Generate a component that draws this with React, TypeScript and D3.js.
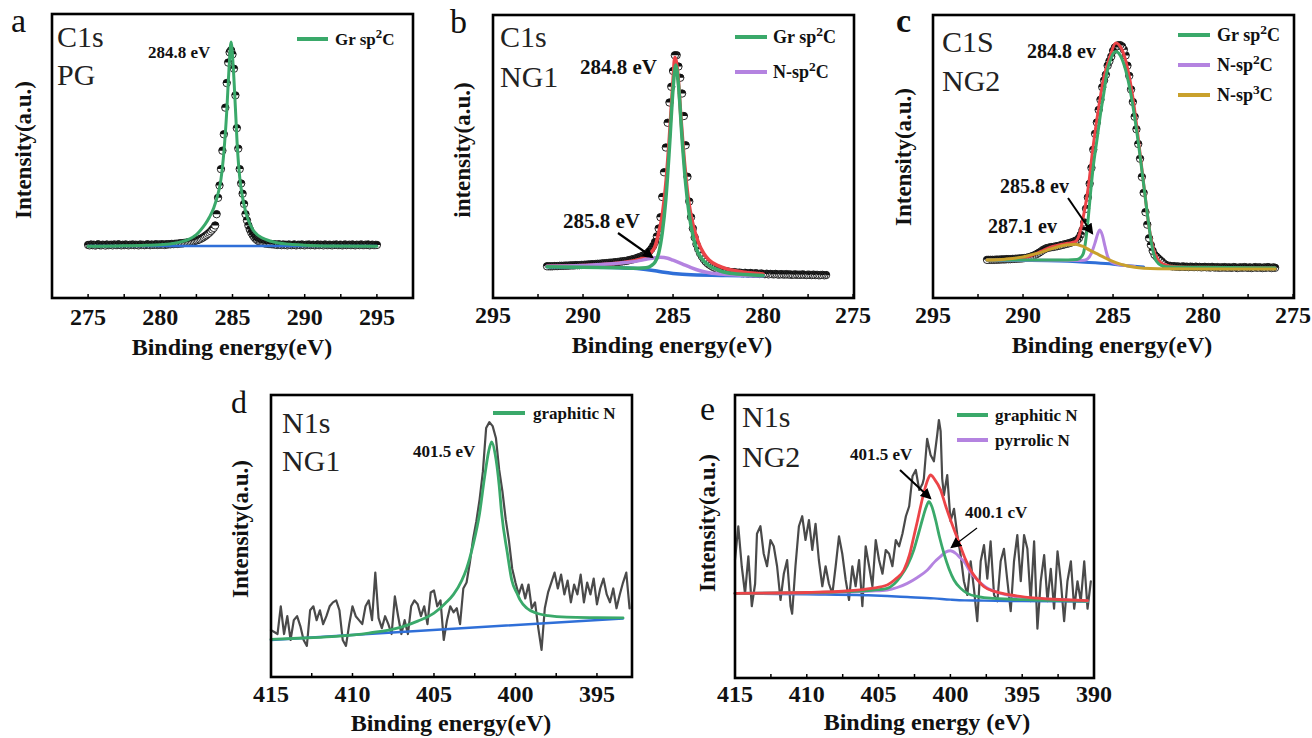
import React from 'react';
import * as d3 from 'd3';

// fontes e cores
const FONT = '"Liberation Serif", "DejaVu Serif", "Noto Serif", Times, serif';
const GREEN = '#3aa96a';
const PURPLE = '#b483e0';
const RED = '#ec4448';
const BLUE = '#2f6fd8';
const GOLD = '#c9a12c';
const GRAY = '#4a4a4a';

// ---------- (a) C1s PG : counts every 0.1 eV starting at 275.0 ----------
const pgC1sStart = 275.0;
const pgC1sCounts = [
  1.0, 0.8, 1.2, 0.9, 1.1, 0.7, 1.0, 1.3, 0.9, 0.8,
  1.1, 1.0, 0.7, 1.2, 0.9, 1.0, 1.1, 0.8, 1.2, 1.0,
  0.9, 1.3, 1.0, 0.8, 1.1, 0.9, 1.2, 1.0, 0.8, 1.1,
  1.0, 1.2, 0.9, 1.1, 1.0, 0.8, 1.2, 1.0, 1.1, 0.9,
  1.0, 1.3, 1.1, 0.9, 1.2, 1.0, 1.1, 1.3, 1.0, 1.2,
  1.1, 1.3, 1.2, 1.0, 1.3, 1.2, 1.4, 1.3, 1.5, 1.4,
  1.5, 1.6, 1.5, 1.7, 1.8, 1.7, 1.9, 2.0, 2.1, 2.2,
  2.3, 2.4, 2.6, 2.8, 3.0, 3.2, 3.4, 3.7, 4.0, 4.4,
  4.8, 5.3, 5.8, 6.4, 7.0, 7.7, 8.5, 9.3, 10.5, 16,
  24, 30, 38, 47, 55, 68, 80, 90, 95, 96,
  94, 87, 74, 58, 48, 38, 31, 26, 21, 16,
  13, 10.5, 8.5, 7, 5.8, 4.8, 4.0, 3.4, 2.9, 2.5,
  2.2, 2.0, 1.8, 1.7, 1.6, 1.5, 1.4, 1.4, 1.3, 1.3,
  1.2, 1.0, 1.3, 1.1, 0.9, 1.2, 1.0, 1.1, 0.8, 1.2,
  1.0, 0.9, 1.1, 1.2, 0.8, 1.0, 1.1, 0.9, 1.2, 1.0,
  0.8, 1.1, 1.0, 1.2, 0.9, 1.0, 1.1, 0.8, 1.0, 1.2,
  0.9, 1.1, 1.0, 0.8, 1.2, 1.0, 0.9, 1.1, 1.0, 0.8,
  1.1, 1.0, 1.2, 0.9, 1.0, 1.1, 0.8, 1.0, 1.2, 0.9,
  1.0, 1.1, 0.9, 1.2, 1.0, 0.8, 1.1, 1.0, 0.9, 1.2,
  1.0, 0.9, 1.1, 1.0, 1.2, 0.8, 1.0, 1.1, 0.9, 1.0,
  1.0,
];
const pgGrSp2C: [number, number][] = [
  [275, 0.3], [277, 0.5], [279, 0.8], [280, 1.1], [281, 1.8], [281.5, 2.6], [282, 3.8],
  [282.5, 6], [282.8, 8.3], [283.1, 11], [283.4, 14.5], [283.7, 19], [284, 26], [284.2, 33],
  [284.4, 46], [284.6, 66], [284.75, 86], [284.9, 100], [285.05, 88], [285.2, 68], [285.35, 47],
  [285.5, 34], [285.7, 24], [285.9, 17.5], [286.1, 13], [286.4, 8.5], [286.8, 5.5], [287.4, 3.4],
  [288, 2.2], [289, 1.3], [290, 0.9], [292, 0.5], [295, 0.3],
];
const pgBackground: [number, number][] = [[275, 0.5], [295, 0.5]];

// ---------- (b) C1s NG1 : counts every 0.1 eV starting at 276.5 ----------
const ng1C1sStart = 276.5;
const ng1C1sCounts = [
  1.3, 1.2, 1.4, 1.3, 1.2,
  1.4, 1.3, 1.5, 1.3, 1.4, 1.5, 1.3, 1.4, 1.6, 1.4,
  1.5, 1.4, 1.6, 1.5, 1.4, 1.6, 1.5, 1.7, 1.5, 1.6,
  1.7, 1.5, 1.6, 1.8, 1.6, 1.7, 1.8, 1.6, 1.9, 1.7,
  1.8, 2.0, 1.8, 1.9, 2.1, 1.9, 2.0, 2.2, 2.0, 2.1,
  2.3, 2.1, 2.2, 2.4, 2.3, 2.4, 2.6, 2.5, 2.6, 2.8,
  2.9, 3.0, 3.2, 3.4, 3.6, 3.9, 4.2, 4.6, 5.0, 5.5,
  6.0, 6.6, 7.4, 8.4, 9.6, 11.0, 12.8, 15.0, 18.0, 22.0,
  27, 34, 45, 59, 72, 82, 89, 94, 99, 99,
  92, 85, 78, 69, 58, 47, 36, 27, 22, 18.5,
  16, 14.3, 13, 12, 11.2, 10.6, 10.2, 9.8, 9.5, 9.2,
  8.9, 8.6, 8.4, 8.2, 8.0, 7.8, 7.6, 7.5, 7.4, 7.3,
  7.2, 7.1, 7.0, 6.9, 6.8, 6.8, 6.7, 6.6, 6.5, 6.5,
  6.4, 6.3, 6.3, 6.2, 6.1, 6.1, 6.0, 6.0, 5.9, 5.9,
  5.8, 5.8, 5.7, 5.7, 5.7, 5.6, 5.6, 5.6, 5.5, 5.5,
  5.5, 5.4, 5.4, 5.4, 5.3, 5.3, 5.3, 5.2, 5.2, 5.2,
  5.2,
];
const ng1C1sEnvelope: [number, number][] = [
  [292, 5.2], [290, 5.5], [288, 6.7], [287, 8], [286.5, 9.5], [286.2, 11.5], [286, 14],
  [285.8, 20], [285.6, 28], [285.4, 42], [285.2, 63], [285, 88], [284.9, 98], [284.75, 92],
  [284.55, 70], [284.35, 50], [284.15, 35], [283.9, 24], [283.6, 16], [283.3, 11], [283, 8],
  [282.5, 5.5], [282, 4], [281, 2.5], [280, 1.8],
];
const ng1GrSp2C: [number, number][] = [
  [292, 5], [289, 4.7], [288, 4.5], [287, 4.3], [286.5, 4.5], [286.2, 5.5], [286, 7],
  [285.8, 11], [285.6, 20], [285.4, 35], [285.2, 58], [285, 84], [284.85, 94.7], [284.7, 86],
  [284.5, 62], [284.3, 42], [284.1, 28], [283.9, 19], [283.7, 13], [283.4, 8.5], [283, 5.5],
  [282.5, 3.5], [282, 2.3], [281, 1.5], [280, 1.1],
];
const ng1NSp2C: [number, number][] = [
  [292, 5.2], [290, 5.5], [289, 6], [288, 6.6], [287, 7.5], [286.5, 8.3], [286, 9],
  [285.7, 9.2], [285.3, 8.8], [285, 7.9], [284.5, 6.3], [284, 4.6], [283.5, 3.2], [283, 2.3],
  [282, 1.5], [281, 1.1], [280, 1],
];
const ng1C1sBackground: [number, number][] = [
  [292, 5], [288, 4.6], [287, 4.2], [286, 3.2], [285.5, 2.5], [285, 2], [284, 1.4], [282, 1.1], [280, 1],
];

// ---------- (c) C1s NG2 : counts every 0.1 eV starting at 276.0 ----------
const ng2C1sStart = 276.0;
const ng2C1sCounts = [
  1.0, 1.2, 0.9, 1.1, 1.3, 1.0, 1.2, 0.9, 1.1, 1.2,
  1.0, 1.3, 1.1, 0.9, 1.2, 1.0, 1.1, 1.3, 1.0, 1.2,
  1.1, 0.9, 1.2, 1.3, 1.0, 1.1, 1.2, 1.0, 1.3, 1.1,
  1.2, 1.0, 1.3, 1.1, 1.2, 1.4, 1.1, 1.3, 1.2, 1.4,
  1.3, 1.2, 1.4, 1.3, 1.5, 1.3, 1.4, 1.5, 1.3, 1.5,
  1.4, 1.6, 1.5, 1.4, 1.6, 1.5, 1.7, 1.6, 1.8, 1.9,
  2.0, 2.4, 3.0, 3.8, 4.5, 5.2, 6.0, 6.8, 8.5, 11,
  14, 20, 25.5, 34, 41, 49, 55.5, 62, 67.5, 74,
  79.5, 85.5, 90, 94.5, 97, 98.5, 99, 99, 98.5, 98,
  96.5, 94, 92, 90, 86, 83.5, 80.5, 75, 70.5, 65,
  60, 53, 45, 38, 32, 27, 21, 17.5, 15.5, 14,
  13.2, 12.8, 12.5, 12.2, 11.9, 11.7, 11.5, 11.3, 11.1, 10.9,
  10.7, 10.5, 10.4, 10.2, 10.1, 10.0, 9.8, 9.6, 9.2, 8.8,
  8.2, 7.7, 7.2, 6.8, 6.4, 6.1, 5.8, 5.6, 5.4, 5.3,
  5.2, 5.1, 5.1, 5.0, 5.0, 4.9, 4.9, 4.8, 4.8, 4.8,
  4.7, 4.7, 4.7, 4.6, 4.6, 4.6, 4.5, 4.5, 4.5, 4.5,
  4.5,
];
const ng2C1sEnvelope: [number, number][] = [
  [292, 4.4], [290, 5.2], [289.5, 6.5], [289, 8.2], [288.5, 10], [288, 11], [287.5, 11.8],
  [287.1, 12.5], [286.9, 15], [286.65, 23.5], [286.37, 36.7], [286.13, 52.9], [285.82, 70.5],
  [285.54, 83.7], [285.17, 94], [284.85, 100], [284.5, 97], [284.2, 89], [283.9, 76], [283.6, 58],
  [283.3, 38], [283, 19], [282.75, 9], [282.5, 4.5], [282.2, 2.5], [281.5, 1.5], [280, 1.2], [276, 1],
];
const ng2GrSp2C: [number, number][] = [
  [292, 4.4], [289, 4.4], [287.5, 4.4], [287, 4.6], [286.8, 5.5], [286.65, 7.3], [286.5, 14],
  [286.37, 23.5], [286.25, 34], [286.1, 45.5], [285.9, 57], [285.72, 67.5], [285.5, 78.5],
  [285.35, 86.6], [285.1, 93.5], [284.85, 96.2], [284.6, 94.5], [284.3, 88], [284, 77], [283.7, 62],
  [283.4, 44], [283.1, 25], [282.85, 11], [282.6, 4], [282.3, 2], [282, 1.5], [280, 1.2], [276, 1],
];
const ng2NSp2C: [number, number][] = [
  [292, 4.4], [290, 4.4], [288, 4.3], [287, 4.2], [286.6, 4.3], [286.4, 5], [286.2, 7.5],
  [286, 12], [285.85, 16], [285.75, 17.6], [285.6, 15.5], [285.45, 10.5], [285.3, 6], [285.1, 3.5],
  [284.8, 2.6], [284.3, 2], [283.8, 1.6],
];
const ng2NSp3C: [number, number][] = [
  [292, 4.4], [291, 4.8], [290, 5.8], [289.5, 6.8], [289, 7.8], [288.5, 9.2], [288, 10.4],
  [287.5, 11.1], [287.1, 11.4], [286.7, 10.5], [286.3, 8.8], [285.8, 6.8], [285.3, 4.8],
  [284.8, 3.2], [284.3, 2], [283.8, 1.2], [283.3, 0.8], [282.5, 0.6], [280, 0.5], [276, 0.5],
];
const ng2C1sBackground: [number, number][] = [
  [292, 4.3], [290, 4.2], [288, 4.0], [287, 3.7], [286, 3.2], [285, 2.6], [284, 1.8], [283.3, 1.3],
];

// ---------- (d) N1s NG1 : counts every 0.2 eV starting at 415 going down ----------
const ng1N1sStart = 415;
const ng1N1sCounts = [
  5, 4, 3, 17, 3, 12, 0, 10, 12, 7,
  0, -3, 15, 17, 10, 15, 8, 12, 17, 19,
  20, 15, 0, -3, 8, 17, 12, 10, 8, 17,
  20, 10, 34, 11, 6, 12, 8, 3, 22, 12,
  3, 10, 3, 17, 20, 18, 12, 17, 8, 24,
  25, 17, 20, 0, 10, 17,
  14, 16, 8, 26, 29, 39, 51, 60, 71, 85,
  107, 110, 108, 102, 86, 75, 61, 50, 36, 29,
  23, 28, 21, 28, 16, 19, 6, -5, 16, 24,
  29, 34, 26, 33, 23, 30, 19, 28, 23, 33,
  19, 29, 23, 31, 18, 26, 31, 23, 19, 26,
  16, 23, 29, 34, 16,
];
const ng1GraphiticN: [number, number][] = [
  [415, 0.3], [413, 1], [411, 1.8], [409, 3.5], [407, 6.5], [406, 9.5], [405, 13.5], [404.3, 18.5],
  [403.8, 23], [403.3, 30], [403, 36], [402.6, 48], [402.2, 64], [401.9, 82], [401.65, 95],
  [401.46, 100], [401.25, 94], [401, 78], [400.85, 64], [400.5, 44], [400.23, 30.3], [399.9, 23.5],
  [399.72, 20.2], [399.3, 16], [398.7, 13.5], [398, 12.3], [396.86, 11.5], [395, 11.3], [393.4, 11.2],
];
const ng1N1sBackground: [number, number][] = [[415, 0], [393.4, 10.9]];

// ---------- (e) N1s NG2 ----------
const ng2N1sRaw: [number, number][] = [
  [415.0, 32], [414.77, 59], [414.53, 27], [414.3, 5], [414.07, 35], [413.83, -5], [413.6, 13],
  [413.47, 53], [413.23, 59], [413.0, 37], [412.77, 27], [412.53, 48], [412.3, 43], [412.07, 27],
  [411.83, 0], [411.6, 21], [411.37, 32], [411.13, -5], [411.02, -11], [410.79, 27], [410.55, 59],
  [410.32, 67], [410.09, 48], [409.85, 64], [409.62, 40], [409.39, 61], [409.16, 32], [408.92, 11],
  [408.69, 27], [408.46, 13], [408.22, 5], [407.99, 27], [407.76, 51], [407.53, 37], [407.29, 16],
  [407.06, 0], [406.83, 27], [406.6, 11], [406.36, 32], [406.13, -5], [405.9, 43], [405.66, 27],
  [405.43, 11], [405.2, 48], [404.97, 32], [404.73, 21], [404.5, 40], [404.27, 37], [404.04, 27],
  [403.8, 48], [403.57, 43], [403.34, 53], [403.1, 67], [402.87, 75], [402.64, 99], [402.41, 104],
  [402.17, 88], [401.94, 93], [401.85, 97], [401.62, 129], [401.38, 116], [401.15, 111],
  [400.92, 132], [400.8, 144], [400.68, 135], [400.57, 97], [400.45, 84], [400.22, 100],
  [399.99, 63], [399.75, 73], [399.52, 52], [399.29, 36], [399.06, 15], [398.82, 4], [398.59, 31],
  [398.36, 9], [398.13, -17], [397.89, 31], [397.66, 44], [397.43, 17], [397.2, 47], [396.96, 4],
  [396.73, -1], [396.5, 31], [396.27, 41], [396.03, 15], [395.8, -9], [395.57, 31], [395.34, 52],
  [395.1, 15], [394.87, 52], [394.64, 41], [394.41, -1], [394.17, 47], [393.94, -23], [393.71, 15],
  [393.47, 36], [393.24, -1], [393.01, 25], [392.78, -7], [392.54, 39], [392.31, 15], [392.08, -17],
  [391.85, 15], [391.61, 31], [391.38, -7], [391.15, 15], [390.92, -1], [390.68, 31], [390.45, -7],
  [390.22, 15],
];
const ng2N1sEnvelope: [number, number][] = [
  [415, 5.3], [410, 6], [407, 7.4], [405.5, 9.3], [404.4, 12], [403.8, 17], [403.24, 24],
  [402.85, 36], [402.55, 50.6], [402.3, 63], [402.08, 74.6], [401.8, 88], [401.55, 97],
  [401.38, 100], [401.1, 96.5], [400.68, 88], [400.35, 76], [399.99, 64], [399.6, 52],
  [399.29, 42.6], [398.95, 32.5], [398.6, 24], [398.1, 16], [397.66, 10.6], [396.8, 6.5],
  [395.8, 4], [394, 1.5], [392, 0.2], [390.45, -0.5],
];
const ng2GraphiticN: [number, number][] = [
  [415, 5.3], [410, 5.8], [407, 6.8], [405.5, 7.8], [404.4, 9.3], [403.9, 13], [403.48, 18.7],
  [403, 27.5], [402.55, 40], [402.2, 54], [401.96, 64], [401.7, 74], [401.5, 78.6], [401.3, 75],
  [401.03, 64], [400.75, 50], [400.45, 37.3], [400.1, 25], [399.75, 16], [399.3, 9.5],
  [398.82, 5.3], [398, 2.5], [396.96, 1.3], [394, 0], [390.45, -1],
];
const ng2PyrrolicN: [number, number][] = [
  [415, 5.3], [410, 5.6], [407, 6.4], [405.5, 7.2], [404.4, 8], [403.7, 10], [403, 13.3],
  [402.3, 18], [401.6, 24], [401.1, 30.5], [400.7, 34.7], [400.3, 38.5], [400, 39.4], [399.6, 37],
  [399.3, 33.5], [399.05, 30.7], [398.6, 22], [398.12, 16], [397.5, 10], [396.5, 5.3],
  [395.5, 2.8], [394.2, 1.3], [392, 0], [390.45, -1],
];
const ng2N1sBackground: [number, number][] = [
  [415, 5.3], [410, 4.5], [406, 3.8], [404.4, 3.2], [403, 2.4], [401.15, 1.3], [400, 0.3],
  [399, -0.3], [397.66, -0.5], [395, -0.9], [390.45, -1.3],
];

// ticks e nomes
const c1sTicksPG = [275, 280, 285, 290, 295];
const c1sTicksNG = [295, 290, 285, 280, 275];
const n1sTicksNG1 = [415, 410, 405, 400, 395];
const n1sTicksNG2 = [415, 410, 405, 400, 395, 390];
const c1sNames = ['Gr sp2C', 'N-sp2C', 'N-sp3C'];
const n1sNames = ['graphitic N', 'pyrrolic N'];

const grid = (start: number, step: number, vals: number[]) =>
  vals.map((v, i) => [+(start + i * step).toFixed(2), v] as [number, number]);

type Curve = { pts: [number, number][]; color: string; width: number; raw?: boolean };
type Txt = { text: string; x: number; y: number; size: number };

const panels = [
  {
    frame: { x0: 52, x1: 413, y0: 14, y1: 298 },
    xDomain: [272.5, 297.5], yDomain: [-24.9, 113.7],
    ticks: c1sTicksPG, tickY: 325,
    letter: { text: 'a', x: 11, y: 32, size: 34, bold: false },
    sample: { lines: ['C1s', 'PG'], x: 57, ys: [47, 85], size: 30 },
    yLabel: { text: 'Intensity(a.u.)', x: 31, y: 150 },
    xLabel: { text: 'Binding energy(eV)', x: 232, y: 355 },
    legend: { x0: 297, x1: 328, tx: 335, ys: [39], size: 17, names: [c1sNames[0]], colors: [GREEN] },
    notes: [{ text: '284.8 eV', x: 148, y: 58, size: 17 }] as Txt[],
    arrows: [] as number[][],
    scatter: grid(pgC1sStart, 0.1, pgC1sCounts),
    curves: [
      { pts: pgBackground, color: BLUE, width: 2.5 },
      { pts: pgGrSp2C, color: GREEN, width: 3 },
    ] as Curve[],
  },
  {
    frame: { x0: 493, x1: 854, y0: 15, y1: 298 },
    xDomain: [295, 274.95], yDomain: [-8.9, 116.9],
    ticks: c1sTicksNG, tickY: 323,
    letter: { text: 'b', x: 450, y: 33, size: 34, bold: false },
    sample: { lines: ['C1s', 'NG1'], x: 500, ys: [47, 87], size: 30 },
    yLabel: { text: 'intensity(a.u.)', x: 470, y: 150 },
    xLabel: { text: 'Binding energy(eV)', x: 672, y: 353 },
    legend: { x0: 735, x1: 767, tx: 773, ys: [37, 72], size: 18, names: c1sNames.slice(0, 2), colors: [GREEN, PURPLE] },
    notes: [
      { text: '284.8 eV', x: 580, y: 74, size: 21 },
      { text: '285.8 eV', x: 563, y: 228, size: 21 },
    ] as Txt[],
    arrows: [[618, 233, 652, 257, 2.2]],
    scatter: grid(ng1C1sStart, 0.1, ng1C1sCounts),
    curves: [
      { pts: ng1C1sEnvelope, color: RED, width: 3.5 },
      { pts: ng1C1sBackground, color: BLUE, width: 3.5 },
      { pts: ng1NSp2C, color: PURPLE, width: 3.5 },
      { pts: ng1GrSp2C, color: GREEN, width: 3.5 },
    ] as Curve[],
  },
  {
    frame: { x0: 933, x1: 1294, y0: 15, y1: 298 },
    xDomain: [295, 274.95], yDomain: [-12.3, 112.3],
    ticks: c1sTicksNG, tickY: 323,
    letter: { text: 'c', x: 896, y: 32, size: 34, bold: true },
    sample: { lines: ['C1S', 'NG2'], x: 942, ys: [52, 91], size: 30 },
    yLabel: { text: 'Intensity(a.u.)', x: 911, y: 157 },
    xLabel: { text: 'Binding energy(eV)', x: 1112, y: 353 },
    legend: { x0: 1178, x1: 1210, tx: 1217, ys: [35, 65, 95], size: 18, names: c1sNames, colors: [GREEN, PURPLE, GOLD] },
    notes: [
      { text: '284.8 ev', x: 1027, y: 58, size: 20 },
      { text: '285.8 ev', x: 1000, y: 193, size: 20 },
      { text: '287.1 ev', x: 988, y: 233, size: 20 },
    ] as Txt[],
    arrows: [[1068, 198, 1092, 233, 2]],
    scatter: grid(ng2C1sStart, 0.1, ng2C1sCounts),
    curves: [
      { pts: ng2C1sBackground, color: BLUE, width: 3 },
      { pts: ng2NSp2C, color: PURPLE, width: 3 },
      { pts: ng2C1sEnvelope, color: RED, width: 3 },
      { pts: ng2GrSp2C, color: GREEN, width: 3 },
      { pts: ng2NSp3C, color: GOLD, width: 3 },
    ] as Curve[],
  },
  {
    frame: { x0: 271, x1: 632, y0: 395, y1: 677 },
    xDomain: [415, 392.85], yDomain: [-18.7, 123.7],
    ticks: n1sTicksNG1, tickY: 702,
    letter: { text: 'd', x: 231, y: 413, size: 32, bold: false },
    sample: { lines: ['N1s', 'NG1'], x: 282, ys: [433, 471], size: 30 },
    yLabel: { text: 'Intensity(a.u.)', x: 248, y: 529 },
    xLabel: { text: 'Binding energy(eV)', x: 451, y: 731 },
    legend: { x0: 493, x1: 525, tx: 533, ys: [413], size: 17, names: [n1sNames[0]], colors: [GREEN] },
    notes: [{ text: '401.5 eV', x: 413, y: 457, size: 17 }] as Txt[],
    arrows: [] as number[][],
    scatter: [] as [number, number][],
    curves: [
      { pts: grid(ng1N1sStart, -0.2, ng1N1sCounts), color: GRAY, width: 2.2, raw: true },
      { pts: ng1N1sBackground, color: BLUE, width: 2.5 },
      { pts: ng1GraphiticN, color: GREEN, width: 2.8 },
    ] as Curve[],
  },
  {
    frame: { x0: 735, x1: 1094, y0: 395, y1: 678 },
    xDomain: [415, 390], yDomain: [-62.4, 164],
    ticks: n1sTicksNG2, tickY: 702,
    letter: { text: 'e', x: 700, y: 420, size: 34, bold: false },
    sample: { lines: ['N1s', 'NG2'], x: 742, ys: [427, 467], size: 30 },
    yLabel: { text: 'Intensity(a.u.)', x: 715, y: 523 },
    xLabel: { text: 'Binding energy (eV)', x: 927, y: 730 },
    legend: { x0: 957, x1: 988, tx: 995, ys: [415, 440], size: 17, names: n1sNames, colors: [GREEN, PURPLE] },
    notes: [
      { text: '401.5 eV', x: 850, y: 460, size: 17 },
      { text: '400.1 cV', x: 965, y: 518, size: 17 },
    ] as Txt[],
    arrows: [[900, 470, 930, 498, 2], [977, 528, 952, 547, 1.2]],
    scatter: [] as [number, number][],
    curves: [
      { pts: ng2N1sRaw, color: GRAY, width: 2.2, raw: true },
      { pts: ng2N1sBackground, color: BLUE, width: 2.5 },
      { pts: ng2PyrrolicN, color: PURPLE, width: 2.8 },
      { pts: ng2GraphiticN, color: GREEN, width: 2.8 },
      { pts: ng2N1sEnvelope, color: RED, width: 2.8 },
    ] as Curve[],
  },
];

type PanelSpec = (typeof panels)[number];

// texto com expoente (sp2C -> sp²C)
function Label({ name, x, y, size }: { name: string; x: number; y: number; size: number }) {
  const m = name.match(/^(.*sp)(\d)(C)$/);
  return (
    <text x={x} y={y} fontSize={size} fontWeight="bold" style={{ fontFamily: FONT }} fill="#111">
      {m ? (
        <>
          {m[1]}
          <tspan dy={-size * 0.38} fontSize={size * 0.75}>{m[2]}</tspan>
          <tspan dy={size * 0.38}>{m[3]}</tspan>
        </>
      ) : name}
    </text>
  );
}

function Panel({ p }: { p: PanelSpec }) {
  const { frame: f } = p;
  const x = d3.scaleLinear().domain(p.xDomain).range([f.x0, f.x1]);
  const y = d3.scaleLinear().domain(p.yDomain).range([f.y1, f.y0]);
  const smooth = d3.line<[number, number]>().x(d => x(d[0])).y(d => y(d[1])).curve(d3.curveMonotoneX);
  const raw = d3.line<[number, number]>().x(d => x(d[0])).y(d => y(d[1]));
  const byPx = (pts: [number, number][]) => [...pts].sort((a, b) => x(a[0]) - x(b[0]));
  const [lo, hi] = d3.extent(p.xDomain) as [number, number];
  const minor = d3.range(d3.min(p.ticks)! - 2.5, d3.max(p.ticks)! + 2.6, 2.5).filter(v => v > lo && v < hi);
  const bold = { fontFamily: FONT, fontWeight: 'bold' as const };

  return (
    <g>
      {p.scatter.map((d, i) => (
        <use key={i} href="#halfdot" x={x(d[0])} y={y(d[1])} />
      ))}
      {p.curves.map((c, i) => (
        <path key={i} d={(c.raw ? raw : smooth)(byPx(c.pts)) || ''} fill="none" stroke={c.color}
          strokeWidth={c.width} strokeLinejoin="round" strokeLinecap="round" />
      ))}
      <rect x={f.x0} y={f.y0} width={f.x1 - f.x0} height={f.y1 - f.y0} fill="none" stroke="#000" strokeWidth={2.6} />
      {minor.map(v => (
        <line key={v} x1={x(v)} x2={x(v)} y1={f.y1} y2={f.y1 - 4} stroke="#000" strokeWidth={1.5} />
      ))}
      {p.ticks.map(v => (
        <text key={v} x={x(v)} y={p.tickY} textAnchor="middle" fontSize={24} style={bold} fill="#111">{v}</text>
      ))}
      <text x={p.xLabel.x} y={p.xLabel.y} textAnchor="middle" fontSize={24} style={bold} fill="#111">{p.xLabel.text}</text>
      <text transform={`translate(${p.yLabel.x},${p.yLabel.y}) rotate(-90)`} textAnchor="middle" fontSize={23} style={bold} fill="#111">{p.yLabel.text}</text>
      <text x={p.letter.x} y={p.letter.y} fontSize={p.letter.size}
        style={{ fontFamily: FONT, fontWeight: p.letter.bold ? 'bold' : 'normal' }} fill="#111">{p.letter.text}</text>
      {p.sample.lines.map((t, i) => (
        <text key={t} x={p.sample.x} y={p.sample.ys[i]} fontSize={p.sample.size} style={{ fontFamily: FONT }} fill="#222">{t}</text>
      ))}
      {p.legend.names.map((n, i) => (
        <g key={n}>
          <line x1={p.legend.x0} x2={p.legend.x1} y1={p.legend.ys[i]} y2={p.legend.ys[i]} stroke={p.legend.colors[i]} strokeWidth={4} />
          <Label name={n} x={p.legend.tx} y={p.legend.ys[i] + p.legend.size * 0.33} size={p.legend.size} />
        </g>
      ))}
      {p.notes.map(n => (
        <text key={n.text} x={n.x} y={n.y} fontSize={n.size} style={bold} fill="#111">{n.text}</text>
      ))}
      {p.arrows.map((a, i) => (
        <line key={i} x1={a[0]} y1={a[1]} x2={a[2]} y2={a[3]} stroke="#000" strokeWidth={a[4]} markerEnd="url(#arrowhead)" />
      ))}
    </g>
  );
}

export default function App() {
  return (
    <div style={{ position: 'fixed', left: 0, top: 0, background: '#fff' }}>
      <svg width={1312} height={738} viewBox="0 0 1312 738">
        <defs>
          <g id="halfdot">
            <circle r={3.7} fill="#fff" stroke="#111" strokeWidth={0.9} />
            <path d="M -3.7 0 A 3.7 3.7 0 0 1 3.7 0 Z" fill="#111" />
          </g>
          <marker id="arrowhead" viewBox="0 0 10 10" refX={8} refY={5} markerWidth={11} markerHeight={11}
            markerUnits="userSpaceOnUse" orient="auto">
            <path d="M0,0 L10,5 L0,10 z" fill="#000" />
          </marker>
        </defs>
        <rect width={1312} height={738} fill="#fff" />
        {panels.map((p, i) => <Panel key={i} p={p} />)}
      </svg>
    </div>
  );
}
